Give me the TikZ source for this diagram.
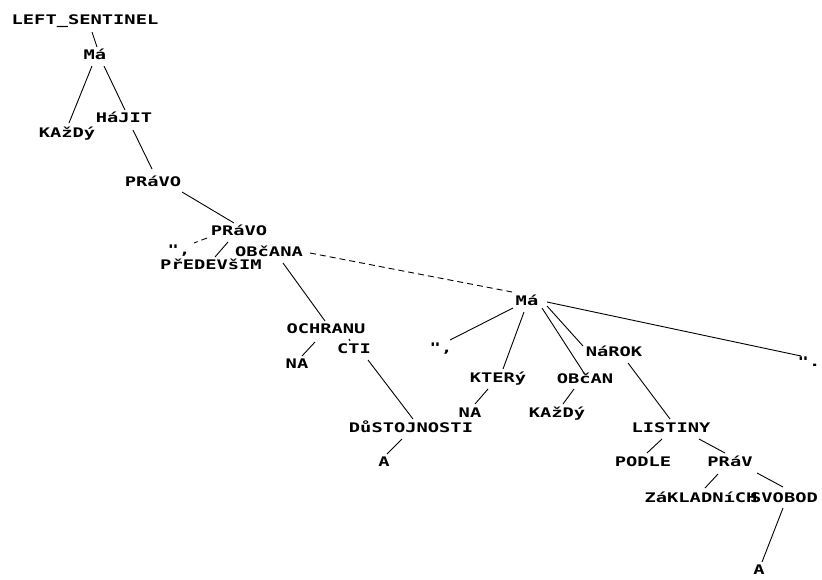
\documentclass[tikz,border=0pt]{standalone}
\usepackage{fontspec}
\usetikzlibrary{calc}
\newfontfamily\pixfont{DejaVu Sans Mono}[FakeStretch=1.42]
\begin{document}
\begin{tikzpicture}[x=1pt,y=-1pt,
  lbl/.style={inner sep=0pt, text height=9.5pt, text depth=0pt,
    font=\pixfont\bfseries\fontsize{13.2}{13.2}\selectfont},
  edge/.style={line width=0.9pt},
  dedge/.style={edge, dash pattern=on 6pt off 4pt}]
\useasboundingbox[fill=white] (0,0) rectangle (822,579);
% nodes
\node[lbl] (ls)      at (85,20)   {LEFT\_SENTINEL};
\node[lbl] (ma1)     at (95,55)   {Má};
\node[lbl] (kaz1)    at (67,133)  {KAžDý};
\node[lbl] (hajit)   at (124,118) {HáJIT};
\node[lbl] (pravo1)  at (153,182) {PRáVO};
\node[lbl] (pravo2)  at (239,231) {PRáVO};
\node[lbl] (q1)      at (179,250) {",};
\node[lbl] (obcana)  at (269,252) {OBčANA};
\node[lbl] (pred)    at (211,265) {PřEDEVšIM};
\node[lbl] (ochranu) at (326,329) {OCHRANU};
\node[lbl] (cti)     at (354,349) {CTI};
\node[lbl] (na1)     at (297,364) {NA};
\node[lbl] (dust)    at (411,428) {DůSTOJNOSTI};
\node[lbl] (a1)      at (384,462) {A};
\node[lbl] (ma2)     at (527,301) {Má};
\node[lbl] (q2)      at (441,348) {",};
\node[lbl] (ktery)   at (498,378) {KTERý};
\node[lbl] (na2)     at (470,413) {NA};
\node[lbl] (obcan)   at (585,379) {OBčAN};
\node[lbl] (kaz2)    at (557,413) {KAžDý};
\node[lbl] (narok)   at (614,352) {NáROK};
\node[lbl] (q3)      at (809,362) {".};
\node[lbl] (listiny) at (671,428) {LISTINY};
\node[lbl] (podle)   at (643,462) {PODLE};
\node[lbl] (prav)    at (730,462) {PRáV};
\node[lbl] (zakl)    at (701,498) {ZáKLADNíCH};
\node[lbl] (svobod)  at (784,498) {SVOBOD};
\node[lbl] (a2)      at (759,570) {A};
% edges
\draw[edge] ($(ls)+(7,12)$) -- ($(ma1)+(2,-8)$);
\draw[edge] ($(ma1)+(-3,11)$) -- ($(kaz1)+(2,-10)$);
\draw[edge] ($(ma1)+(9,11)$) -- ($(hajit)+(1,-8)$);
\draw[edge] ($(hajit)+(9,12)$) -- ($(pravo1)+(-1,-13)$);
\draw[edge] ($(pravo1)+(29,10)$) -- ($(pravo2)+(-5,-8)$);
\draw[dedge] ($(pravo2)+(-32,7)$) -- ($(q1)+(15,-7)$);
\draw[edge] ($(pravo2)+(-11,11)$) -- ($(pred)+(4,-8)$);
\draw[dedge] ($(obcana)+(41,1)$) -- ($(ma2)+(-15,-9)$);
\draw[edge] ($(obcana)+(14,11)$) -- ($(ochranu)+(-1,-8)$);
\draw[edge] ($(ochranu)+(-11,13)$) -- ($(na1)+(5,-8)$);
\draw[edge] ($(ochranu)+(23,10)$) -- ($(cti)+(-4,-8)$);
\draw[edge] ($(cti)+(14,11)$) -- ($(dust)+(2,-9)$);
\draw[edge] ($(dust)+(-9,11)$) -- ($(a1)+(3,-8)$);
\draw[edge] ($(ma2)+(-14,7)$) -- ($(q2)+(9,-8)$);
\draw[edge] ($(ma2)+(-3,11)$) -- ($(ktery)+(5,-9)$);
\draw[edge] ($(ktery)+(-10,11)$) -- ($(na2)+(5,-9)$);
\draw[edge] ($(ma2)+(15,7)$) -- ($(obcan)+(-1,-6)$);
\draw[edge] ($(ma2)+(20,5)$) -- ($(narok)+(-31,-6)$);
\draw[edge] ($(ma2)+(20,1)$) -- ($(q3)+(-8,-6)$);
\draw[edge] ($(obcan)+(-11,10)$) -- ($(kaz2)+(6,-9)$);
\draw[edge] ($(narok)+(14,11)$) -- ($(listiny)+(-1,-9)$);
\draw[edge] ($(listiny)+(-9,11)$) -- ($(podle)+(4,-9)$);
\draw[edge] ($(listiny)+(28,11)$) -- ($(prav)+(-5,-9)$);
\draw[edge] ($(prav)+(-12,12)$) -- ($(zakl)+(4,-10)$);
\draw[edge] ($(prav)+(27,11)$) -- ($(svobod)+(-1,-11)$);
\draw[edge] ($(svobod)+(-1,10)$) -- ($(a2)+(3,-8)$);
\end{tikzpicture}
\end{document}
